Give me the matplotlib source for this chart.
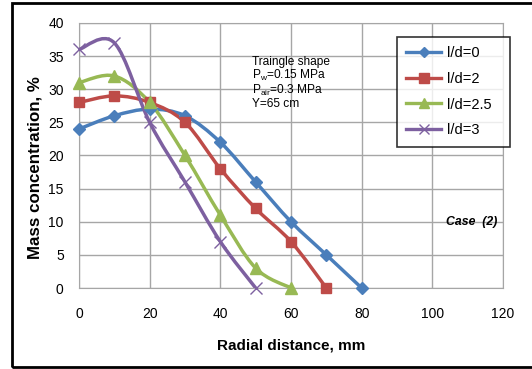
import matplotlib
matplotlib.use("Agg")
import matplotlib.pyplot as plt
import numpy as np
from matplotlib.path import Path
from matplotlib.patches import PathPatch, Rectangle
from matplotlib.lines import Line2D

plt.rcParams["font.family"] = ["Liberation Sans", "DejaVu Sans"]

# ─── data ────────────────────────────────────────────────────────────────────
x_ld0 = [0, 10, 20, 30, 40, 50, 60, 70, 80]
y_ld0 = [24, 26, 27, 26, 22, 16, 10, 5, 0]
x_ld2 = [0, 10, 20, 30, 40, 50, 60, 70]
y_ld2 = [28, 29, 28, 25, 18, 12, 7, 0]
x_ld25 = [0, 10, 20, 30, 40, 50, 60]
y_ld25 = [31, 32, 28, 20, 11, 3, 0]
x_ld3 = [0, 10, 20, 30, 40, 50]
y_ld3 = [36, 37, 25, 16, 7, 0]

labels = ["l/d=0", "l/d=2", "l/d=2.5", "l/d=3"]
colors = ["#4A7EBB", "#BE4B48", "#98B954", "#7D60A0"]
markers = ["D", "s", "^", "x"]
msizes = [6, 7.5, 8, 8]

x_ticks = [0, 20, 40, 60, 80, 100, 120]
y_ticks = [0, 5, 10, 15, 20, 25, 30, 35, 40]


def smooth_path(ax, xs, ys):
    """Excel-like smoothed line: Catmull-Rom turned into cubic Bezier, in display space."""
    pts = ax.transData.transform(np.column_stack([xs, ys]))
    n = len(pts)
    verts = [pts[0]]
    codes = [Path.MOVETO]
    for i in range(n - 1):
        p0 = pts[i - 1] if i > 0 else pts[i]
        p1 = pts[i]
        p2 = pts[i + 1]
        p3 = pts[i + 2] if i + 2 < n else pts[i + 1]
        c1 = p1 + (p2 - p0) / 6.0
        c2 = p2 - (p3 - p1) / 6.0
        verts += [c1, c2, p2]
        codes += [Path.CURVE4] * 3
    return Path(verts, codes)


fig = plt.figure(figsize=(5.32, 3.69), dpi=100)
ax = fig.add_axes([0.1485, 0.2195, 0.797, 0.7182])

ax.set_xlim(0, 120)
ax.set_ylim(0, 40)
ax.set_xticks(x_ticks)
ax.set_yticks(y_ticks)
ax.grid(True, color="#A6A6A6", linewidth=1.0)
ax.set_axisbelow(True)
for s in ax.spines.values():
    s.set_color("#A6A6A6")
ax.tick_params(length=0, labelsize=10)
ax.tick_params(axis="x", pad=14)
ax.tick_params(axis="y", pad=11)

series = [(x_ld0, y_ld0), (x_ld2, y_ld2), (x_ld25, y_ld25), (x_ld3, y_ld3)]
handles = []
for (xs, ys), lab, c, m, ms in zip(series, labels, colors, markers, msizes):
    path = smooth_path(ax, xs, ys)
    patch = PathPatch(path, transform=None, facecolor="none", edgecolor=c,
                      linewidth=2.5, capstyle="round", joinstyle="round", zorder=3)
    ax.add_artist(patch)
    ax.plot(xs, ys, linestyle="none", marker=m, color=c, markersize=ms,
            markeredgewidth=1.0, zorder=4, clip_on=False)
    handles.append(Line2D([], [], color=c, linewidth=2.4, marker=m,
                          markersize=ms * 0.9, label=lab))

leg = ax.legend(handles=handles, loc="upper left",
                bbox_to_anchor=(0.75, 0.948, 0.2665, 0.0), mode="expand",
                fontsize=10.5, frameon=True, fancybox=False, edgecolor="black",
                handlelength=2.4, labelspacing=0.8, borderpad=0.65,
                handletextpad=0.35, borderaxespad=0)
leg.get_frame().set_linewidth(1.2)

ax.text(0.408, 0.875,
        "Traingle shape\nP$_\\mathregular{w}$=0.15 MPa\nP$_\\mathregular{air}$=0.3 MPa\nY=65 cm",
        transform=ax.transAxes, fontsize=8.6, va="top", ha="left", linespacing=1.0)

ax.text(0.986, 0.25, "Case  (2)", transform=ax.transAxes, fontsize=8.8,
        fontweight="bold", fontstyle="italic", ha="right", va="center")

ax.set_xlabel("Radial distance, mm", fontsize=11, fontweight="bold", labelpad=12)
ax.set_ylabel("Mass concentration, %", fontsize=12.2, fontweight="bold")
ax.yaxis.set_label_coords(-0.085, 0.455)

fig.patches.append(Rectangle((12 / 532, 2 / 369), 1.2, 364 / 369,
                             transform=fig.transFigure, fill=False,
                             edgecolor="black", linewidth=2.0))

fig.savefig("out.png", dpi=100)
